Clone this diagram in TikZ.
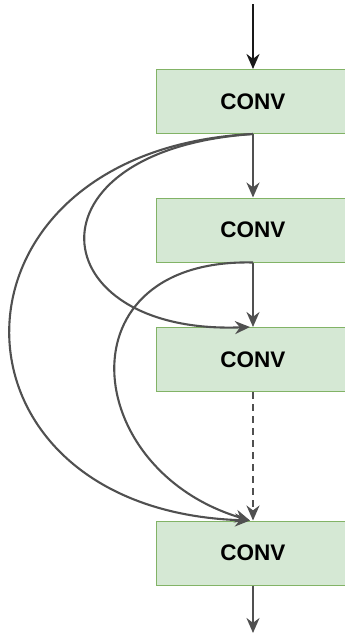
\documentclass[tikz,border=0pt]{standalone}
\usepackage{fontspec}
\setmainfont{Liberation Sans}
\usetikzlibrary{arrows.meta}
\definecolor{boxfill}{HTML}{D5E8D4}
\definecolor{boxline}{HTML}{82B366}
\definecolor{linegray}{HTML}{505050}
\begin{document}
\begin{tikzpicture}[x=1pt,y=-1pt,
  convbox/.style={draw=boxline, fill=boxfill, line width=1pt, minimum width=194pt, minimum height=64pt, inner sep=0pt, font=\fontsize{22.5}{26}\selectfont\bfseries},
  link/.style={draw=linegray, line width=2.1pt, -{Stealth[length=15pt,width=13pt]}},
  toplink/.style={draw=black!90, line width=2.3pt, -{Stealth[length=15pt,width=13pt]}}]
\useasboundingbox (0,0) rectangle (345,635);
\node[convbox] (c1) at (253,101.5) {CONV};
\node[convbox] (c2) at (253,230) {CONV};
\node[convbox] (c3) at (253,359.5) {CONV};
\node[convbox] (c4) at (253,553) {CONV};
\coordinate (in) at (253,4);
\coordinate (out) at (253,633);
\draw[toplink] (in) -- (c1.north);
\draw[link] (c1.south) -- (c2.north);
\draw[link] (c2.south) -- (c3.north);
\draw[link, dashed, dash pattern=on 7pt off 5pt] (c3.south) -- (c4.north);
\draw[link] (c4.south) -- (out);
\draw[link] (c1.south) .. controls (20,150) and (40,335) .. ([xshift=-3pt]c3.north);
\draw[link] (c1.south) .. controls (-70,150) and (-70,510) .. ([xshift=-3pt]c4.north);
\draw[link] (c2.south) .. controls (60,258) and (80,470) .. ([xshift=-3pt]c4.north);
\end{tikzpicture}
\end{document}
